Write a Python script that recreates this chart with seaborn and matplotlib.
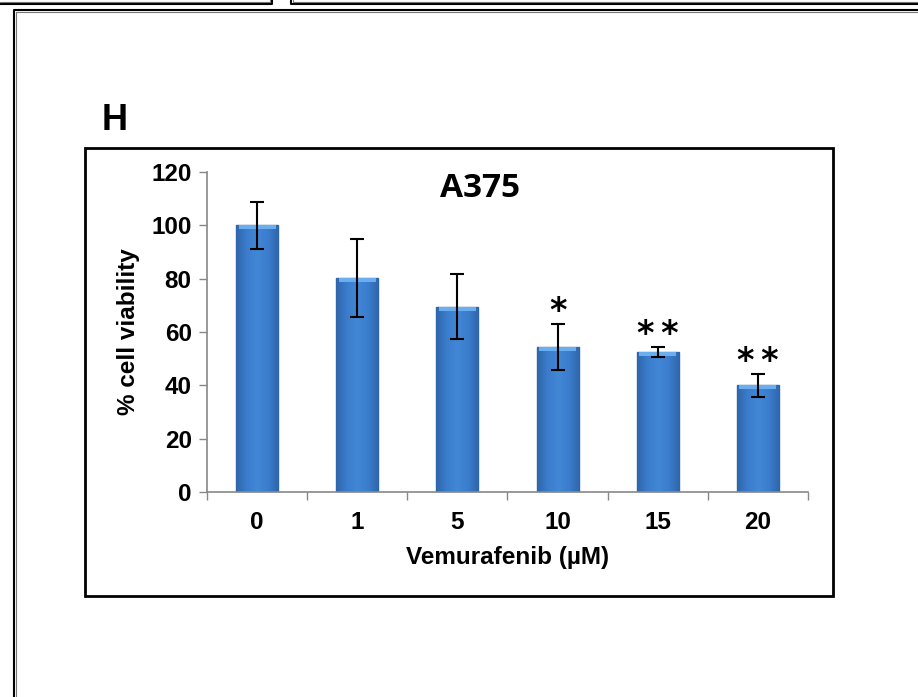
import matplotlib
matplotlib.use("Agg")
import matplotlib.pyplot as plt
import seaborn as sns
import pandas as pd
import numpy as np
from matplotlib.lines import Line2D
from matplotlib.patches import Rectangle
from matplotlib.colors import LinearSegmentedColormap

# ---- data ----
doses = ["0", "1", "5", "10", "15", "20"]
viability = [100.0, 80.2, 69.4, 54.4, 52.5, 40.0]
errors = [8.7, 14.5, 12.2, 8.6, 1.9, 4.2]
stars = ["", "", "", "*", "**", "**"]

sns.set_style("white")
plt.rcParams['font.family'] = ['Liberation Sans', 'DejaVu Sans']
plt.rcParams['text.color'] = 'black'
plt.rcParams['axes.labelcolor'] = 'black'
plt.rcParams['xtick.color'] = 'black'
plt.rcParams['ytick.color'] = 'black'

W, H = 918, 697
fig = plt.figure(figsize=(W / 100, H / 100), dpi=100)

def fx(x):
    return x / W

def fy(y):
    return 1 - y / H

ax = fig.add_axes([fx(207), fy(492), fx(808) - fx(207), fy(172) - fy(492)])

df = pd.DataFrame({"dose": doses, "viability": viability})
sns.barplot(data=df, x="dose", y="viability", order=doses, color="#3b7bcc",
            width=0.42, edgecolor="#3569ad", linewidth=1.0, saturation=1,
            errorbar=None, ax=ax)

# gradient shading for the bars (bevel look)
cmap = LinearSegmentedColormap.from_list(
    "bevel", ["#2f66ab", "#3b7dcd", "#4286d6", "#3b7dcd", "#2f66ab"])
grad = np.linspace(0, 1, 64).reshape(1, -1)
for p in list(ax.patches):
    x0, y0 = p.get_x(), p.get_y()
    w, h = p.get_width(), p.get_height()
    im = ax.imshow(grad, cmap=cmap, aspect="auto", extent=[x0, x0 + w, y0, y0 + h],
                   zorder=p.get_zorder() + 0.1, interpolation="bicubic")
    im.set_clip_path(p)
    top = Rectangle((x0 + w * 0.06, y0 + h - 1.4), w * 0.88, 1.4,
                    facecolor="#6aaef0", edgecolor="none",
                    zorder=p.get_zorder() + 0.2)
    ax.add_patch(top)
ax.set_aspect("auto")

ax.errorbar(range(len(doses)), viability, yerr=errors, fmt="none",
            ecolor="black", elinewidth=1.5, capsize=5, capthick=1.5, zorder=5)

for i, (v, e, s) in enumerate(zip(viability, errors, stars)):
    if s:
        ax.text(i, v + e - 1.5, "\u2009".join(s), ha="center",
                va="bottom", fontsize=24, fontweight="bold", color="black",
                family=["DejaVu Sans"])

ax.set_ylim(0, 120)
ax.set_xlim(-0.5, len(doses) - 0.5)
ax.set_yticks(range(0, 121, 20))
ax.tick_params(axis="y", which="major", length=6, width=1, color="#888888",
               direction="out", labelsize=17.5, pad=5, left=True)
ax.set_xticks(range(len(doses)))
ax.set_xticks([i - 0.5 for i in range(len(doses) + 1)], minor=True)
ax.tick_params(axis="x", which="major", length=0, labelsize=17.5, pad=14)
ax.tick_params(axis="x", which="minor", length=6, width=1, color="#888888",
               direction="out", bottom=True)
for lab in ax.get_xticklabels() + ax.get_yticklabels():
    lab.set_fontweight("bold")

for side in ["top", "right"]:
    ax.spines[side].set_visible(False)
for side in ["left", "bottom"]:
    ax.spines[side].set_visible(True)
    ax.spines[side].set_color("#888888")
    ax.spines[side].set_linewidth(1.2)

ax.set_xlabel("Vemurafenib (µM)", fontsize=17.5, fontweight="bold", labelpad=8)
ax.set_ylabel("% cell viability", fontsize=17.5, fontweight="bold", labelpad=8)

fig.text(fx(480), fy(188), "A375", ha="center", va="center", fontsize=24,
         fontweight="bold", family=["Open Sans", "DejaVu Sans"])
fig.text(fx(115), fy(120), "H", ha="center", va="center", fontsize=26,
         fontweight="bold")

# ---- decorative frames ----
fig.add_artist(Rectangle((fx(85), fy(596)), fx(833) - fx(85), fy(148) - fy(596),
                         transform=fig.transFigure, fill=False, edgecolor="black",
                         linewidth=2))
def line(xs, ys, lw=2, color="black"):
    fig.add_artist(Line2D([fx(x) for x in xs], [fy(y) for y in ys],
                          transform=fig.transFigure, color=color, linewidth=lw))

# outer frame (double line)
line([14, 14, 918], [697, 10, 10], lw=1.5)
line([16, 16, 918], [697, 12, 12], lw=0.8, color="#777777")
# top segments from previous panels
line([0, 272, 272], [4, 4, 0], lw=1.5)
line([0, 270, 270], [2, 2, 0], lw=0.8, color="#777777")
line([291, 291, 918], [0, 4, 4], lw=1.5)
line([293, 293, 918], [0, 2, 2], lw=0.8, color="#777777")

fig.savefig("out.png", dpi=100)
